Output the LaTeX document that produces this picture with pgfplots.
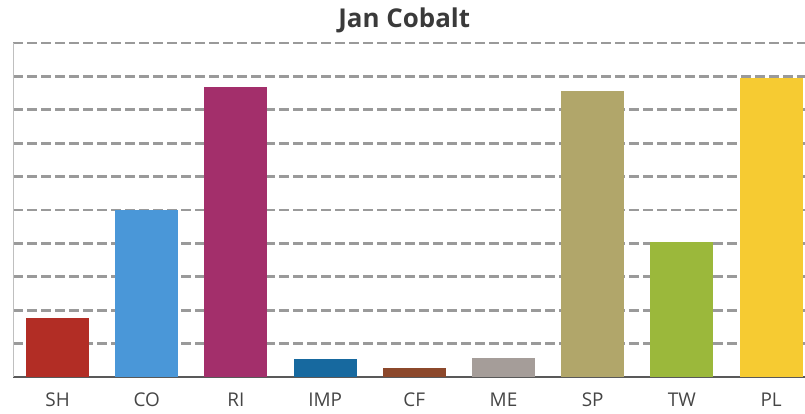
\documentclass[border=0pt]{standalone}
\usepackage{pgfplots}
\pgfplotsset{compat=1.18}
\usepackage{fontspec}
\setmainfont{Open Sans}
\definecolor{cSH}{HTML}{B22D25}
\definecolor{cCO}{HTML}{4A97D8}
\definecolor{cRI}{HTML}{A32F6B}
\definecolor{cIMP}{HTML}{17699F}
\definecolor{cCF}{HTML}{8C482B}
\definecolor{cME}{HTML}{A59D99}
\definecolor{cSP}{HTML}{B1A66A}
\definecolor{cTW}{HTML}{9BB83B}
\definecolor{cPL}{HTML}{F6CB32}
\definecolor{gridc}{HTML}{9A9A9A}
\definecolor{txt}{HTML}{3A3A3A}
\definecolor{ticktxt}{HTML}{454545}
\begin{document}
\begin{tikzpicture}
\useasboundingbox (0,0) rectangle (805bp,414bp);
\begin{axis}[
  at={(13bp,37bp)}, anchor=south west,
  scale only axis, width=792bp, height=334bp,
  xmin=-0.5, xmax=8.38, ymin=0, ymax=10,
  xtick={0,...,8},
  xticklabels={SH,CO,RI,IMP,CF,ME,SP,TW,PL},
  ytick={1,...,10}, yticklabels={},
  major tick length=0pt,
  ymajorgrids,
  grid style={gridc, line width=2.8bp, dash pattern=on 10bp off 4bp},
  axis x line*=bottom, axis y line*=left,
  x axis line style={draw=black!65, line width=1.4bp, -},
  y axis line style={draw=black!25, line width=1bp, -},
  ticklabel style={font=\fontsize{19}{22}\selectfont, text=ticktxt},
  xticklabel style={yshift=-12bp},
  ybar, bar width=63bp, bar shift=0pt,
  clip=false,
]
\addplot[fill=cSH, draw=none] coordinates {(0,1.77)};
\addplot[fill=cCO, draw=none] coordinates {(1,5.0)};
\addplot[fill=cRI, draw=none] coordinates {(2,8.68)};
\addplot[fill=cIMP, draw=none] coordinates {(3,0.54)};
\addplot[fill=cCF, draw=none] coordinates {(4,0.27)};
\addplot[fill=cME, draw=none] coordinates {(5,0.57)};
\addplot[fill=cSP, draw=none] coordinates {(6,8.57)};
\addplot[fill=cTW, draw=none] coordinates {(7,4.04)};
\addplot[fill=cPL, draw=none] coordinates {(8,8.96)};
\node[font=\bfseries\fontsize{26}{29}\selectfont, text=txt] at (rel axis cs:0.494,1) [yshift=23bp] {Jan Cobalt};
\end{axis}
\end{tikzpicture}
\end{document}
